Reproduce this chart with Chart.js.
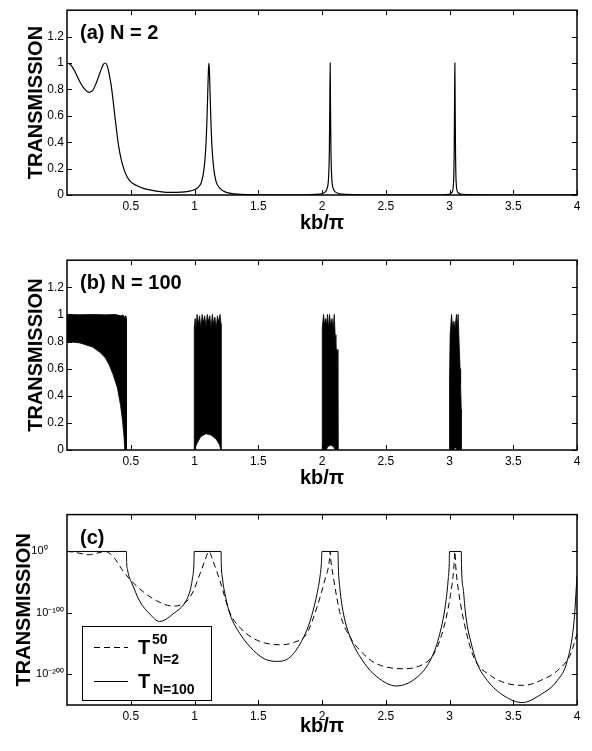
<!DOCTYPE html>
<html>
<head>
<meta charset="utf-8">
<script src="https://cdn.jsdelivr.net/npm/chart.js@4.4.1/dist/chart.umd.min.js"></script>
<style>
  body { margin: 0; background: #fff; }
  #wrap { position: relative; width: 592px; height: 751px; }
  canvas { position: absolute; left: 0; }
</style>
</head>
<body>
<div id="wrap">
  <canvas id="chart-a" width="592" height="250" style="top:0"></canvas>
  <canvas id="chart-b" width="592" height="255" style="top:250px"></canvas>
  <canvas id="chart-c" width="592" height="246" style="top:505px"></canvas>
</div>
<script>
// tick values shared by the three panels
const xTicks = [0.5, 1, 1.5, 2, 2.5, 3, 3.5, 4];
const linTicks = [0, 0.2, 0.4, 0.6, 0.8, 1, 1.2];
const logTicks = [-200, -100, 0];
const logTickLabels = ['10⁻²⁰⁰', '10⁻¹⁰⁰', '10⁰'];

// (a) N = 2 : kb/pi and transmission
const kbA = [0, 0.03, 0.06, 0.1, 0.14, 0.172, 0.2, 0.23, 0.26, 0.285, 0.3, 0.315, 0.33, 0.345, 0.36, 0.375, 0.39, 0.405, 0.425, 0.445, 0.47, 0.5, 0.55, 0.6, 0.7, 0.8, 0.9, 0.95, 1.0,
  1.03, 1.055, 1.075, 1.088, 1.097, 1.104, 1.109, 1.113, 1.117, 1.122, 1.129, 1.138, 1.151, 1.17, 1.2, 1.25, 1.32, 1.45, 1.7, 1.9, 1.98,
  2.02, 2.04, 2.052, 2.058, 2.061, 2.064, 2.067, 2.07, 2.076, 2.088, 2.11, 2.16, 2.3, 2.6, 2.9, 2.99,
  3.02, 3.032, 3.037, 3.04, 3.042, 3.044, 3.047, 3.052, 3.065, 3.1, 3.3, 3.7, 4.0];
const transA = [1.0, 0.985, 0.94, 0.86, 0.8, 0.778, 0.79, 0.85, 0.93, 0.99, 1.0, 0.98, 0.92, 0.84, 0.73, 0.6, 0.48, 0.37, 0.27, 0.2, 0.14, 0.1, 0.07, 0.05, 0.03, 0.02, 0.022, 0.028, 0.04,
  0.06, 0.1, 0.2, 0.35, 0.55, 0.78, 0.94, 1.0, 0.94, 0.78, 0.55, 0.35, 0.2, 0.1, 0.05, 0.02, 0.008, 0.003, 0.001, 0.002, 0.006,
  0.02, 0.05, 0.14, 0.35, 0.65, 1.0, 0.65, 0.35, 0.14, 0.05, 0.02, 0.006, 0.002, 0.001, 0.001, 0.004,
  0.02, 0.1, 0.35, 0.75, 1.0, 0.75, 0.35, 0.1, 0.02, 0.004, 0.001, 0.0005, 0.0003];

// (b) N = 100 : each pass band is black between a ragged top and a lower envelope [kb/pi, T]
const band1Top = [[0, 0.8], [0, 1], [0.1, 0.998], [0.2, 1], [0.3, 0.997], [0.38, 1], [0.42, 0.99], [0.44, 0.995], [0.45, 0.975], [0.458, 0.99], [0.462, 0.96], [0.466, 0.97], [0.466, 0]];
const band1Bottom = [[0, 0.8], [0.1, 0.79], [0.2, 0.76], [0.26, 0.72], [0.3, 0.68], [0.33, 0.63], [0.36, 0.56], [0.395, 0.46], [0.42, 0.33], [0.435, 0.22], [0.447, 0.1], [0.453, 0]];
const band2Top = [[0.998, 0], [0.998, 0.9], [1.005, 0.97], [1.012, 0.9], [1.02, 1.0], [1.03, 0.93], [1.04, 0.99], [1.05, 0.9], [1.06, 1.0], [1.07, 0.94], [1.08, 0.99], [1.09, 0.91], [1.1, 1.0], [1.11, 0.95], [1.12, 0.99], [1.13, 0.9], [1.14, 1.0], [1.15, 0.93], [1.16, 0.98], [1.17, 0.9], [1.18, 0.99], [1.19, 0.94], [1.2, 1.0], [1.208, 0.93], [1.208, 0]];
const band2Bottom = [[0.998, 0], [1.02, 0.05], [1.05, 0.1], [1.09, 0.12], [1.13, 0.11], [1.17, 0.08], [1.195, 0.04], [1.208, 0]];
const band3Top = [[2.0, 0], [2.0, 0.56], [2.004, 0.9], [2.012, 1.0], [2.02, 0.93], [2.03, 0.97], [2.037, 0.92], [2.043, 1.0], [2.05, 0.9], [2.059, 1.0], [2.068, 0.92], [2.078, 0.97], [2.087, 0.9], [2.096, 1.0], [2.103, 0.85], [2.109, 0.75], [2.12, 0.74], [2.125, 0.55], [2.125, 0]];
const band3Bottom = [[2.0, 0], [2.033, 0], [2.045, 0.025], [2.068, 0.035], [2.09, 0.025], [2.104, 0], [2.125, 0]];
const band4Top = [[3.0, 0], [3.0, 0.51], [3.005, 0.85], [3.016, 1.0], [3.025, 0.9], [3.034, 0.95], [3.043, 0.9], [3.055, 1.0], [3.061, 0.9], [3.068, 1.0], [3.075, 0.8], [3.083, 0.6], [3.087, 0.49], [3.092, 0.3], [3.092, 0]];
const band4Bottom = [[3.0, 0], [3.03, 0], [3.04, 0.015], [3.05, 0.015], [3.06, 0], [3.092, 0]];

// (c) exponents: log10 of T(N=2)^50 and of T(N=100)
const kbN2 = [0, 0.05, 0.1, 0.17, 0.23, 0.3, 0.34, 0.38, 0.44, 0.505, 0.6, 0.7, 0.83, 0.94, 0.99, 1.04, 1.08, 1.113, 1.146, 1.2, 1.278, 1.357, 1.45, 1.55, 1.672, 1.78, 1.88, 1.96, 2.02, 2.06, 2.064, 2.068, 2.09, 2.143, 2.222, 2.326, 2.43, 2.641, 2.798, 2.877, 2.955, 3.008, 3.034, 3.042, 3.05, 3.06, 3.112, 3.19, 3.322, 3.453, 3.584, 3.715, 3.846, 3.95, 4.0];
const expN2 = [0, -1, -3, -5.4, -3, 0, -4, -13, -32, -48, -66, -80, -89, -81, -65, -38, -16, 0, -16, -48, -100, -124, -140, -149, -152, -148, -134, -91, -48, -11, 0, -11, -43, -102, -140, -167, -183, -191, -183, -167, -124, -70, -27, 0, -27, -48, -113, -172, -202, -215, -218, -210, -194, -167, -134];
const kbN100 = [0, 0.466, 0.468, 0.475, 0.49, 0.505, 0.57, 0.65, 0.725, 0.83, 0.94, 0.97, 0.985, 0.995, 0.998, 1.208, 1.21, 1.22, 1.245, 1.278, 1.357, 1.462, 1.55, 1.645, 1.75, 1.855, 1.907, 1.96, 1.985, 1.995, 2.0, 2.125, 2.128, 2.14, 2.169, 2.222, 2.326, 2.43, 2.583, 2.75, 2.85, 2.916, 2.969, 2.99, 2.998, 3.0, 3.092, 3.095, 3.11, 3.126, 3.178, 3.218, 3.296, 3.427, 3.571, 3.715, 3.846, 3.925, 3.977, 4.0];
const expN100 = [0, 0, -18, -30, -43, -50, -81, -102, -114, -102, -78, -60, -42, -22, 0, 0, -20, -45, -75, -102, -134, -161, -175, -179, -172, -140, -113, -70, -40, -20, 0, 0, -25, -60, -102, -140, -180, -204, -219, -204, -177, -140, -86, -45, -20, 0, 0, -30, -65, -102, -156, -183, -210, -235, -246, -233, -210, -177, -113, -40];

const FONT = "'Liberation Sans', Arial, Helvetica, sans-serif";

const toXY = (xs, ys) => xs.map((x, i) => ({ x: x, y: ys[i] }));
const band = (top, bottom) => top.concat(bottom.slice().reverse()).map(p => ({ x: p[0], y: p[1] }));

// box round the plot with inward ticks on all four sides
const framePlugin = {
  id: 'frame',
  afterDraw(chart) {
    const { ctx, chartArea: a, scales } = chart;
    ctx.save();
    ctx.strokeStyle = '#000';
    ctx.lineWidth = 1;
    ctx.beginPath();
    scales.x.ticks.forEach(t => {
      const px = Math.round(scales.x.getPixelForValue(t.value)) + 0.5;
      ctx.moveTo(px, a.bottom); ctx.lineTo(px, a.bottom - 5);
      ctx.moveTo(px, a.top); ctx.lineTo(px, a.top + 5);
    });
    scales.y.ticks.forEach(t => {
      const py = Math.round(scales.y.getPixelForValue(t.value)) + 0.5;
      ctx.moveTo(a.left, py); ctx.lineTo(a.left + 5, py);
      ctx.moveTo(a.right, py); ctx.lineTo(a.right - 5, py);
    });
    ctx.stroke();
    ctx.lineWidth = 1.5;
    ctx.strokeRect(a.left, a.top, a.right - a.left, a.bottom - a.top);
    ctx.restore();
  }
};

function panelLabel(text) {
  return {
    id: 'panelLabel',
    afterDraw(chart) {
      const { ctx, chartArea } = chart;
      ctx.save();
      ctx.font = 'bold 20px ' + FONT;
      ctx.fillStyle = '#000';
      ctx.fillText(text, chartArea.left + 13, chartArea.top + 29);
      ctx.restore();
    }
  };
}

// legend of panel (c), drawn by hand because of the sub/superscripts
const legendBox = {
  id: 'legendBox',
  afterDatasetsDraw(chart) {
    const { ctx, chartArea: a } = chart;
    const x0 = Math.round(a.left + 15), y0 = Math.round(a.top + 111);
    ctx.save();
    ctx.fillStyle = '#fff';
    ctx.fillRect(x0, y0, 129, 74);
    ctx.strokeStyle = '#000';
    ctx.lineWidth = 1;
    ctx.strokeRect(x0 + 0.5, y0 + 0.5, 129, 74);
    ctx.beginPath();
    ctx.setLineDash([6, 4]);
    ctx.moveTo(x0 + 12, y0 + 21.5); ctx.lineTo(x0 + 46, y0 + 21.5);
    ctx.stroke();
    ctx.setLineDash([]);
    ctx.beginPath();
    ctx.moveTo(x0 + 12, y0 + 55.5); ctx.lineTo(x0 + 46, y0 + 55.5);
    ctx.stroke();
    ctx.fillStyle = '#000';
    ctx.font = 'bold 20px ' + FONT;
    ctx.fillText('T', x0 + 56, y0 + 28);
    ctx.fillText('T', x0 + 56, y0 + 62);
    ctx.font = 'bold 14px ' + FONT;
    ctx.fillText('50', x0 + 70, y0 + 18);
    ctx.fillText('N=2', x0 + 71, y0 + 38);
    ctx.fillText('N=100', x0 + 71, y0 + 68);
    ctx.restore();
  }
};

function makeOptions(o) {
  return {
    responsive: false,
    animation: false,
    layout: { padding: { top: o.top, right: 15, left: 0, bottom: 0 } },
    plugins: { legend: { display: false }, tooltip: { enabled: false } },
    elements: { point: { radius: 0 }, line: { borderColor: '#000', borderWidth: 1 } },
    scales: {
      x: {
        type: 'linear', min: 0, max: 4,
        grid: { display: false, drawTicks: false }, border: { display: false },
        afterBuildTicks: s => { s.ticks = xTicks.map(v => ({ value: v })); },
        afterFit: s => { s.height = o.xHeight; },
        ticks: { color: '#000', font: { family: FONT, size: 12 }, padding: 4, maxRotation: 0, autoSkip: false, callback: v => String(v) },
        title: { display: true, text: 'kb/π', color: '#000', font: { family: FONT, size: 20, weight: 'bold' }, padding: { top: 0, bottom: o.xTitlePad } }
      },
      y: {
        type: 'linear', min: o.yMin, max: o.yMax,
        grid: { display: false, drawTicks: false }, border: { display: false },
        afterBuildTicks: s => { s.ticks = o.yTicks.map(v => ({ value: v })); },
        afterFit: s => { s.width = 67; },
        ticks: {
          color: '#000', font: { family: FONT, size: o.yTickSize }, padding: 3, autoSkip: false,
          callback: o.yLabel || (v => String(v))
        },
        title: { display: true, text: 'TRANSMISSION', color: '#000', font: { family: FONT, size: 20, weight: 'bold' }, padding: { top: o.yTitlePad, bottom: 0 } }
      }
    }
  };
}

new Chart(document.getElementById('chart-a'), {
  type: 'line',
  data: { datasets: [{ data: toXY(kbA, transA), cubicInterpolationMode: 'monotone', fill: false, borderWidth: 1.2 }] },
  options: makeOptions({ top: 3, xHeight: 55, xTitlePad: 15, yTitlePad: 24, yMin: 0, yMax: 1.4, yTicks: linTicks, yTickSize: 12 }),
  plugins: [framePlugin, panelLabel('(a) N = 2')]
});

new Chart(document.getElementById('chart-b'), {
  type: 'line',
  data: {
    datasets: [
      [band1Top, band1Bottom], [band2Top, band2Bottom], [band3Top, band3Bottom], [band4Top, band4Bottom]
    ].map(b => ({ data: band(b[0], b[1]), fill: 'shape', backgroundColor: '#000', borderWidth: 0.8, tension: 0 }))
  },
  options: makeOptions({ top: 8, xHeight: 55, xTitlePad: 15, yTitlePad: 24, yMin: 0, yMax: 1.4, yTicks: linTicks, yTickSize: 12 }),
  plugins: [framePlugin, panelLabel('(b) N = 100')]
});

new Chart(document.getElementById('chart-c'), {
  type: 'line',
  data: {
    datasets: [
      { data: toXY(kbN2, expN2), borderDash: [6, 4], cubicInterpolationMode: 'monotone', fill: false },
      { data: toXY(kbN100, expN100), cubicInterpolationMode: 'monotone', fill: false }
    ]
  },
  options: makeOptions({
    top: 9, xHeight: 46, xTitlePad: 13, yTitlePad: 12, yMin: -250, yMax: 60, yTicks: logTicks, yTickSize: 11,
    // the "10" bases line up on the left, so pad the short label on the right
    yLabel: v => logTickLabels[logTicks.indexOf(v)] + (v === 0 ? '\u2003\u2002' : '')
  }),
  plugins: [framePlugin, legendBox, panelLabel('(c)')]
});
</script>
</body>
</html>
